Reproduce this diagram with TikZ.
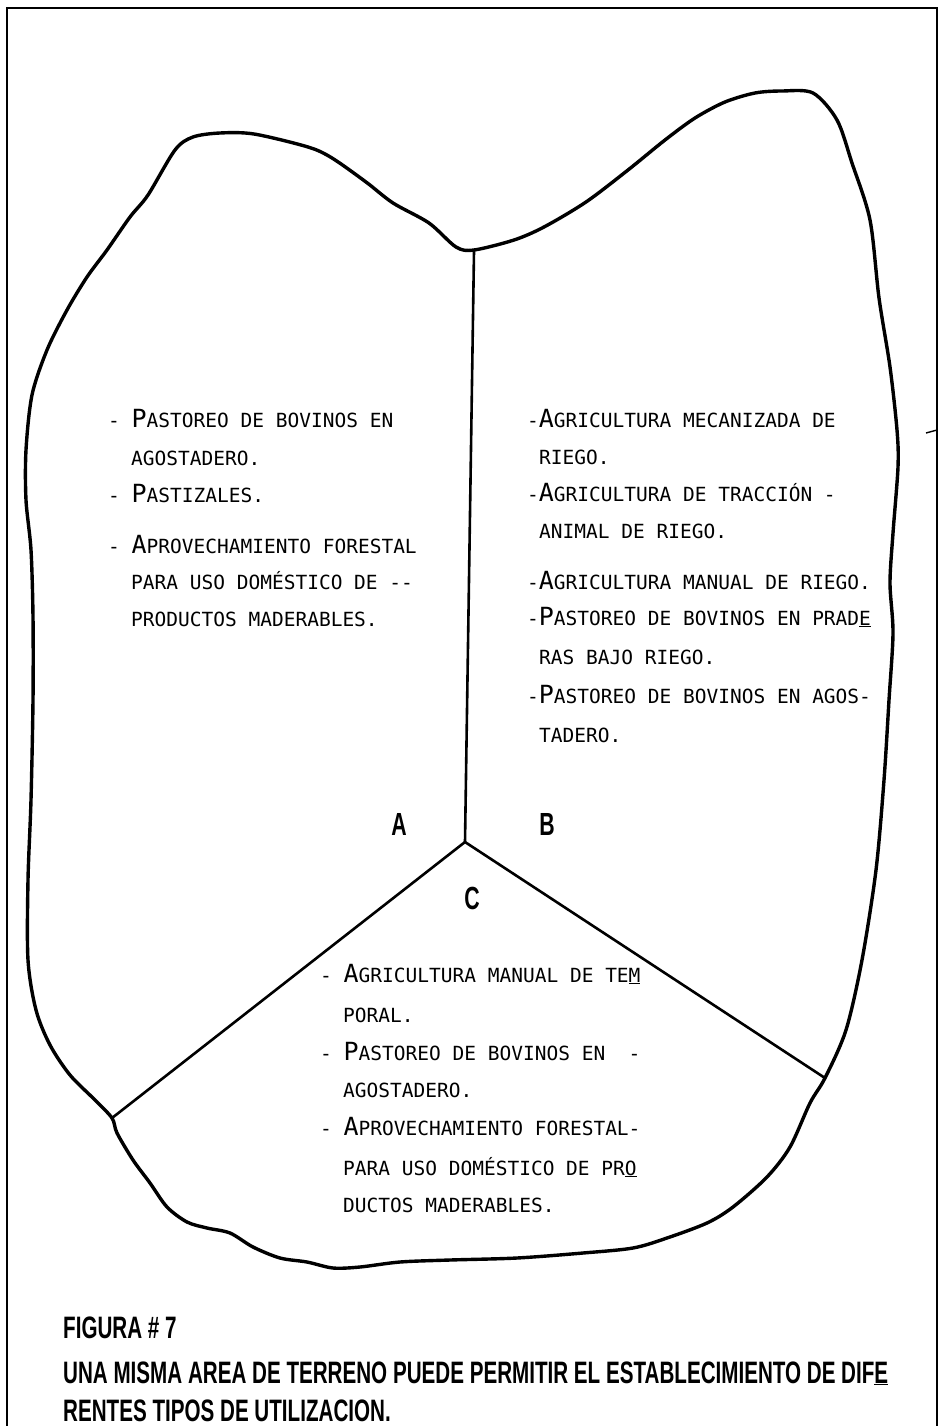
\documentclass[tikz,border=0pt]{standalone}
\usepackage{fontspec}
\newfontfamily\twfont{DejaVu Sans Mono}
\newfontfamily\capfont[FakeStretch=0.665]{Liberation Sans}
\newcommand\bc[1]{{\fontsize{25}{25}\selectfont #1}}
\begin{document}
\begin{tikzpicture}[x=1pt,y=-1pt,
  body/.style={anchor=base west, inner sep=0pt, font=\twfont\fontsize{19.5}{20}\selectfont},
  captxt/.style={anchor=base west, inner sep=0pt, font=\capfont\bfseries\fontsize{31}{32}\selectfont},
  lbl/.style={anchor=center, inner sep=0pt, font=\capfont\bfseries\fontsize{32}{33}\selectfont},
  frameline/.style={line width=2.6pt},
  outline/.style={line width=3.4pt, line join=round},
  divider/.style={line width=2.6pt, line cap=round}]
\useasboundingbox (0,0) rectangle (943,1426);
\fill[white] (0,0) rectangle (943,1426);
% frame
\draw[frameline] (7,1426) -- (7,8) -- (937,8) -- (937,1426);
\draw[line width=1.4pt] (926,433) -- (937,430);
% outline
\draw[outline] plot[smooth cycle, tension=0.5] coordinates {
 (474,250) (514,240) (544,227) (586,202) (628,170) (665,140) (695,118)
 (725,102) (755,93) (782,91) (813,93) (837,120) (852,163) (870,220)
 (879,298) (890,367) (897,430) (898,467) (893,533) (890,583) (893,633)
 (889,700) (884,780) (876,870) (862,960) (846,1030) (825,1078)
 (810,1103) (790,1147) (767,1177) (733,1207) (707,1223) (667,1238)
 (633,1248) (583,1253) (517,1258) (450,1260) (400,1262) (360,1267)
 (333,1268) (307,1262) (280,1258) (253,1247) (230,1233) (207,1228)
 (187,1222) (167,1207) (150,1183) (133,1160) (117,1133) (112,1118)
 (95,1100) (70,1075) (50,1045) (36,1010) (28,960) (28,880) (31,800)
 (33,700) (33,617) (31,550) (26,500) (26,450) (32,395) (47,350)
 (67,310) (87,277) (107,250) (130,217) (148,195) (175,150) (193,137)
 (220,133) (254,134) (308,147) (332,158) (366,182) (393,203) (429,223)
 (456,247)};
% dividers
\coordinate (Dtop) at (474,251);
\coordinate (J) at (465,842);
\coordinate (Dleft) at (112,1118);
\coordinate (Dright) at (825,1078);
\draw[divider] (Dtop) -- (J);
\draw[divider] (J) -- (Dleft);
\draw[divider] (J) -- (Dright);
% labels
\node[lbl] (labA) at (399,824) {A};
\node[lbl] (labB) at (547,824) {B};
\node[lbl] (labC) at (472,898) {C};
% left block (A)
\node[body] (a1) at (108,427) {- \bc{P}ASTOREO DE BOVINOS EN};
\node[body] (a2) at (131,465) {AGOSTADERO.};
\node[body] (a3) at (108,502) {- \bc{P}ASTIZALES.};
\node[body] (a4) at (108,553) {- \bc{A}PROVECHAMIENTO FORESTAL};
\node[body] (a5) at (131,589) {PARA USO DOMÉSTICO DE -{}-};
\node[body] (a6) at (131,626) {PRODUCTOS MADERABLES.};
% right block (B)
\node[body] (b1) at (527,427) {-\bc{A}GRICULTURA MECANIZADA DE};
\node[body] (b2) at (539,464) {RIEGO.};
\node[body] (b3) at (527,501) {-\bc{A}GRICULTURA DE TRACCIÓN -};
\node[body] (b4) at (539,538) {ANIMAL DE RIEGO.};
\node[body] (b5) at (527,589) {-\bc{A}GRICULTURA MANUAL DE RIEGO.};
\node[body] (b6) at (527,625) {-\bc{P}ASTOREO DE BOVINOS EN PRAD\underline{E}};
\node[body] (b7) at (539,664) {RAS BAJO RIEGO.};
\node[body] (b8) at (527,703) {-\bc{P}ASTOREO DE BOVINOS EN AGOS-};
\node[body] (b9) at (539,742) {TADERO.};
% bottom block (C)
\node[body] (c1) at (320,982) {- \bc{A}GRICULTURA MANUAL DE TE\underline{M}};
\node[body] (c2) at (343,1022) {PORAL.};
\node[body] (c3) at (320,1060) {- \bc{P}ASTOREO DE BOVINOS EN~~-};
\node[body] (c4) at (343,1097) {AGOSTADERO.};
\node[body] (c5) at (320,1135) {- \bc{A}PROVECHAMIENTO FORESTAL-};
\node[body] (c6) at (343,1175) {PARA USO DOMÉSTICO DE PR\underline{O}};
\node[body] (c7) at (343,1212) {DUCTOS MADERABLES.};
% caption
\node[captxt] (cap1) at (63,1338) {FIGURA \# 7};
\node[captxt] (cap2) at (63,1383) {UNA MISMA AREA DE TERRENO PUEDE PERMITIR EL ESTABLECIMIENTO DE DIF\underline{E}};
\node[captxt] (cap3) at (63,1421) {RENTES TIPOS DE UTILIZACION.};
\end{tikzpicture}
\end{document}
